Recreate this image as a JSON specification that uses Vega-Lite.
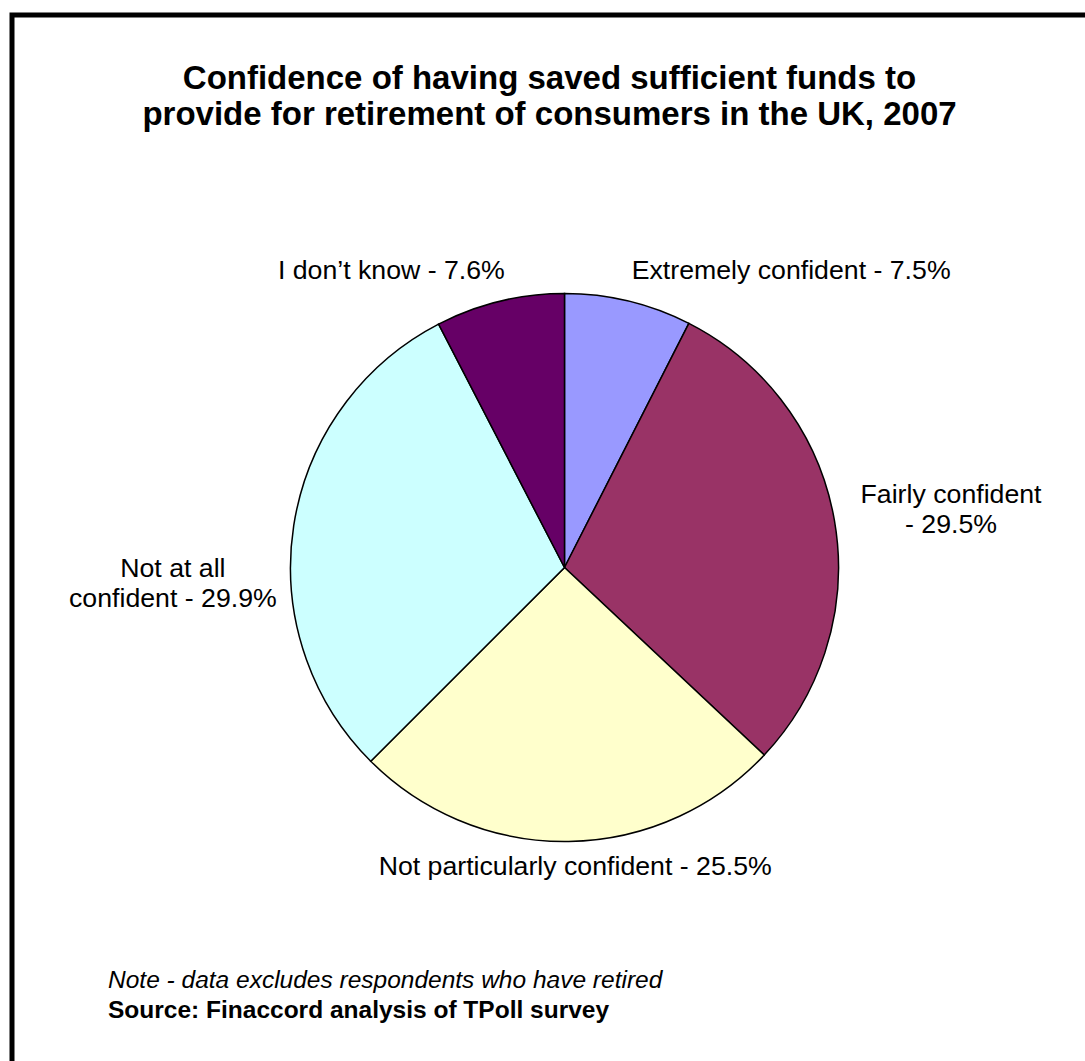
{
  "$schema": "https://vega.github.io/schema/vega-lite/v6.json",
  "autosize": {"type": "pad"},
  "padding": {"left": 9, "top": 12, "right": -34, "bottom": -61},
  "background": "white",
  "config": {
    "view": {"stroke": null},
    "font": "Liberation Sans",
    "text": {"font": "Liberation Sans", "color": "black"}
  },
  "data": {
    "values": [
      {"category": "Extremely confident", "share": 7.5, "rank": 1, "label": "Extremely confident - 7.5%"},
      {"category": "Fairly confident", "share": 29.5, "rank": 2, "label": "Fairly confident\n- 29.5%"},
      {"category": "Not particularly confident", "share": 25.5, "rank": 3, "label": "Not particularly confident - 25.5%"},
      {"category": "Not at all confident", "share": 29.9, "rank": 4, "label": "Not at all\nconfident - 29.9%"},
      {"category": "I don't know", "share": 7.6, "rank": 5, "label": "I don’t know - 7.6%"}
    ]
  },
  "title": {
    "text": "Note - data excludes respondents who have retired",
    "subtitle": "Source: Finaccord analysis of TPoll survey",
    "orient": "bottom",
    "anchor": "start",
    "frame": "group",
    "font": "Liberation Sans",
    "fontSize": 24.5,
    "fontStyle": "italic",
    "fontWeight": "normal",
    "color": "black",
    "subtitleFont": "Liberation Sans",
    "subtitleFontSize": 24.5,
    "subtitleFontWeight": "bold",
    "subtitleColor": "black",
    "subtitlePadding": 6,
    "offset": 0,
    "dx": 96,
    "dy": -154
  },
  "vconcat": [
    {
      "width": 1105,
      "height": 1105,
      "title": {
        "text": ["Confidence of having saved sufficient funds to", "provide for retirement of consumers in the UK, 2007"],
        "orient": "top",
        "anchor": "middle",
        "frame": "group",
        "font": "Liberation Sans",
        "fontSize": 33,
        "fontWeight": "bold",
        "lineHeight": 36,
        "color": "black",
        "offset": 0,
        "dx": -15,
        "dy": 119
      },
      "layer": [
        {
          "data": {"values": [{"frame": "border"}]},
          "mark": {"type": "rect", "fillOpacity": 0, "stroke": "black", "strokeWidth": 5},
          "encoding": {}
        },
        {
          "mark": {"type": "arc", "outerRadius": 274, "stroke": "black", "strokeWidth": 1.5},
          "encoding": {
            "theta": {"field": "share", "type": "quantitative", "stack": true},
            "color": {
              "field": "category",
              "type": "nominal",
              "scale": {
                "domain": ["Extremely confident", "Fairly confident", "Not particularly confident", "Not at all confident", "I don't know"],
                "range": ["#9999FF", "#993366", "#FFFFCC", "#CCFFFF", "#660066"]
              },
              "legend": null
            },
            "order": {"field": "rank", "type": "quantitative"}
          }
        },
        {
          "mark": {"type": "text", "radius": 305, "align": "left", "baseline": "middle", "dx": -4, "dy": 0, "fontSize": 26.7, "lineBreak": "\n", "lineHeight": 30},
          "encoding": {
            "theta": {"field": "share", "type": "quantitative", "stack": true},
            "detail": {"field": "category"},
            "order": {"field": "rank", "type": "quantitative"},
            "text": {"condition": {"test": "datum.rank === 1", "field": "label"}, "value": ""}
          }
        },
        {
          "mark": {"type": "text", "radius": 300, "align": "center", "baseline": "middle", "dx": 91, "dy": -21, "fontSize": 26.7, "lineBreak": "\n", "lineHeight": 30},
          "encoding": {
            "theta": {"field": "share", "type": "quantitative", "stack": true},
            "detail": {"field": "category"},
            "order": {"field": "rank", "type": "quantitative"},
            "text": {"condition": {"test": "datum.rank === 2", "field": "label"}, "value": ""}
          }
        },
        {
          "mark": {"type": "text", "radius": 298, "align": "center", "baseline": "middle", "dx": 6, "dy": 2, "fontSize": 26.7, "lineBreak": "\n", "lineHeight": 30},
          "encoding": {
            "theta": {"field": "share", "type": "quantitative", "stack": true},
            "detail": {"field": "category"},
            "order": {"field": "rank", "type": "quantitative"},
            "text": {"condition": {"test": "datum.rank === 3", "field": "label"}, "value": ""}
          }
        },
        {
          "mark": {"type": "text", "radius": 285, "align": "center", "baseline": "middle", "dx": -110, "dy": 45, "fontSize": 26.7, "lineBreak": "\n", "lineHeight": 30},
          "encoding": {
            "theta": {"field": "share", "type": "quantitative", "stack": true},
            "detail": {"field": "category"},
            "order": {"field": "rank", "type": "quantitative"},
            "text": {"condition": {"test": "datum.rank === 4", "field": "label"}, "value": ""}
          }
        },
        {
          "mark": {"type": "text", "radius": 305, "align": "center", "baseline": "middle", "dx": -101, "dy": 0, "fontSize": 26.7, "lineBreak": "\n", "lineHeight": 30},
          "encoding": {
            "theta": {"field": "share", "type": "quantitative", "stack": true},
            "detail": {"field": "category"},
            "order": {"field": "rank", "type": "quantitative"},
            "text": {"condition": {"test": "datum.rank === 5", "field": "label"}, "value": ""}
          }
        }
      ]
    }
  ]
}
